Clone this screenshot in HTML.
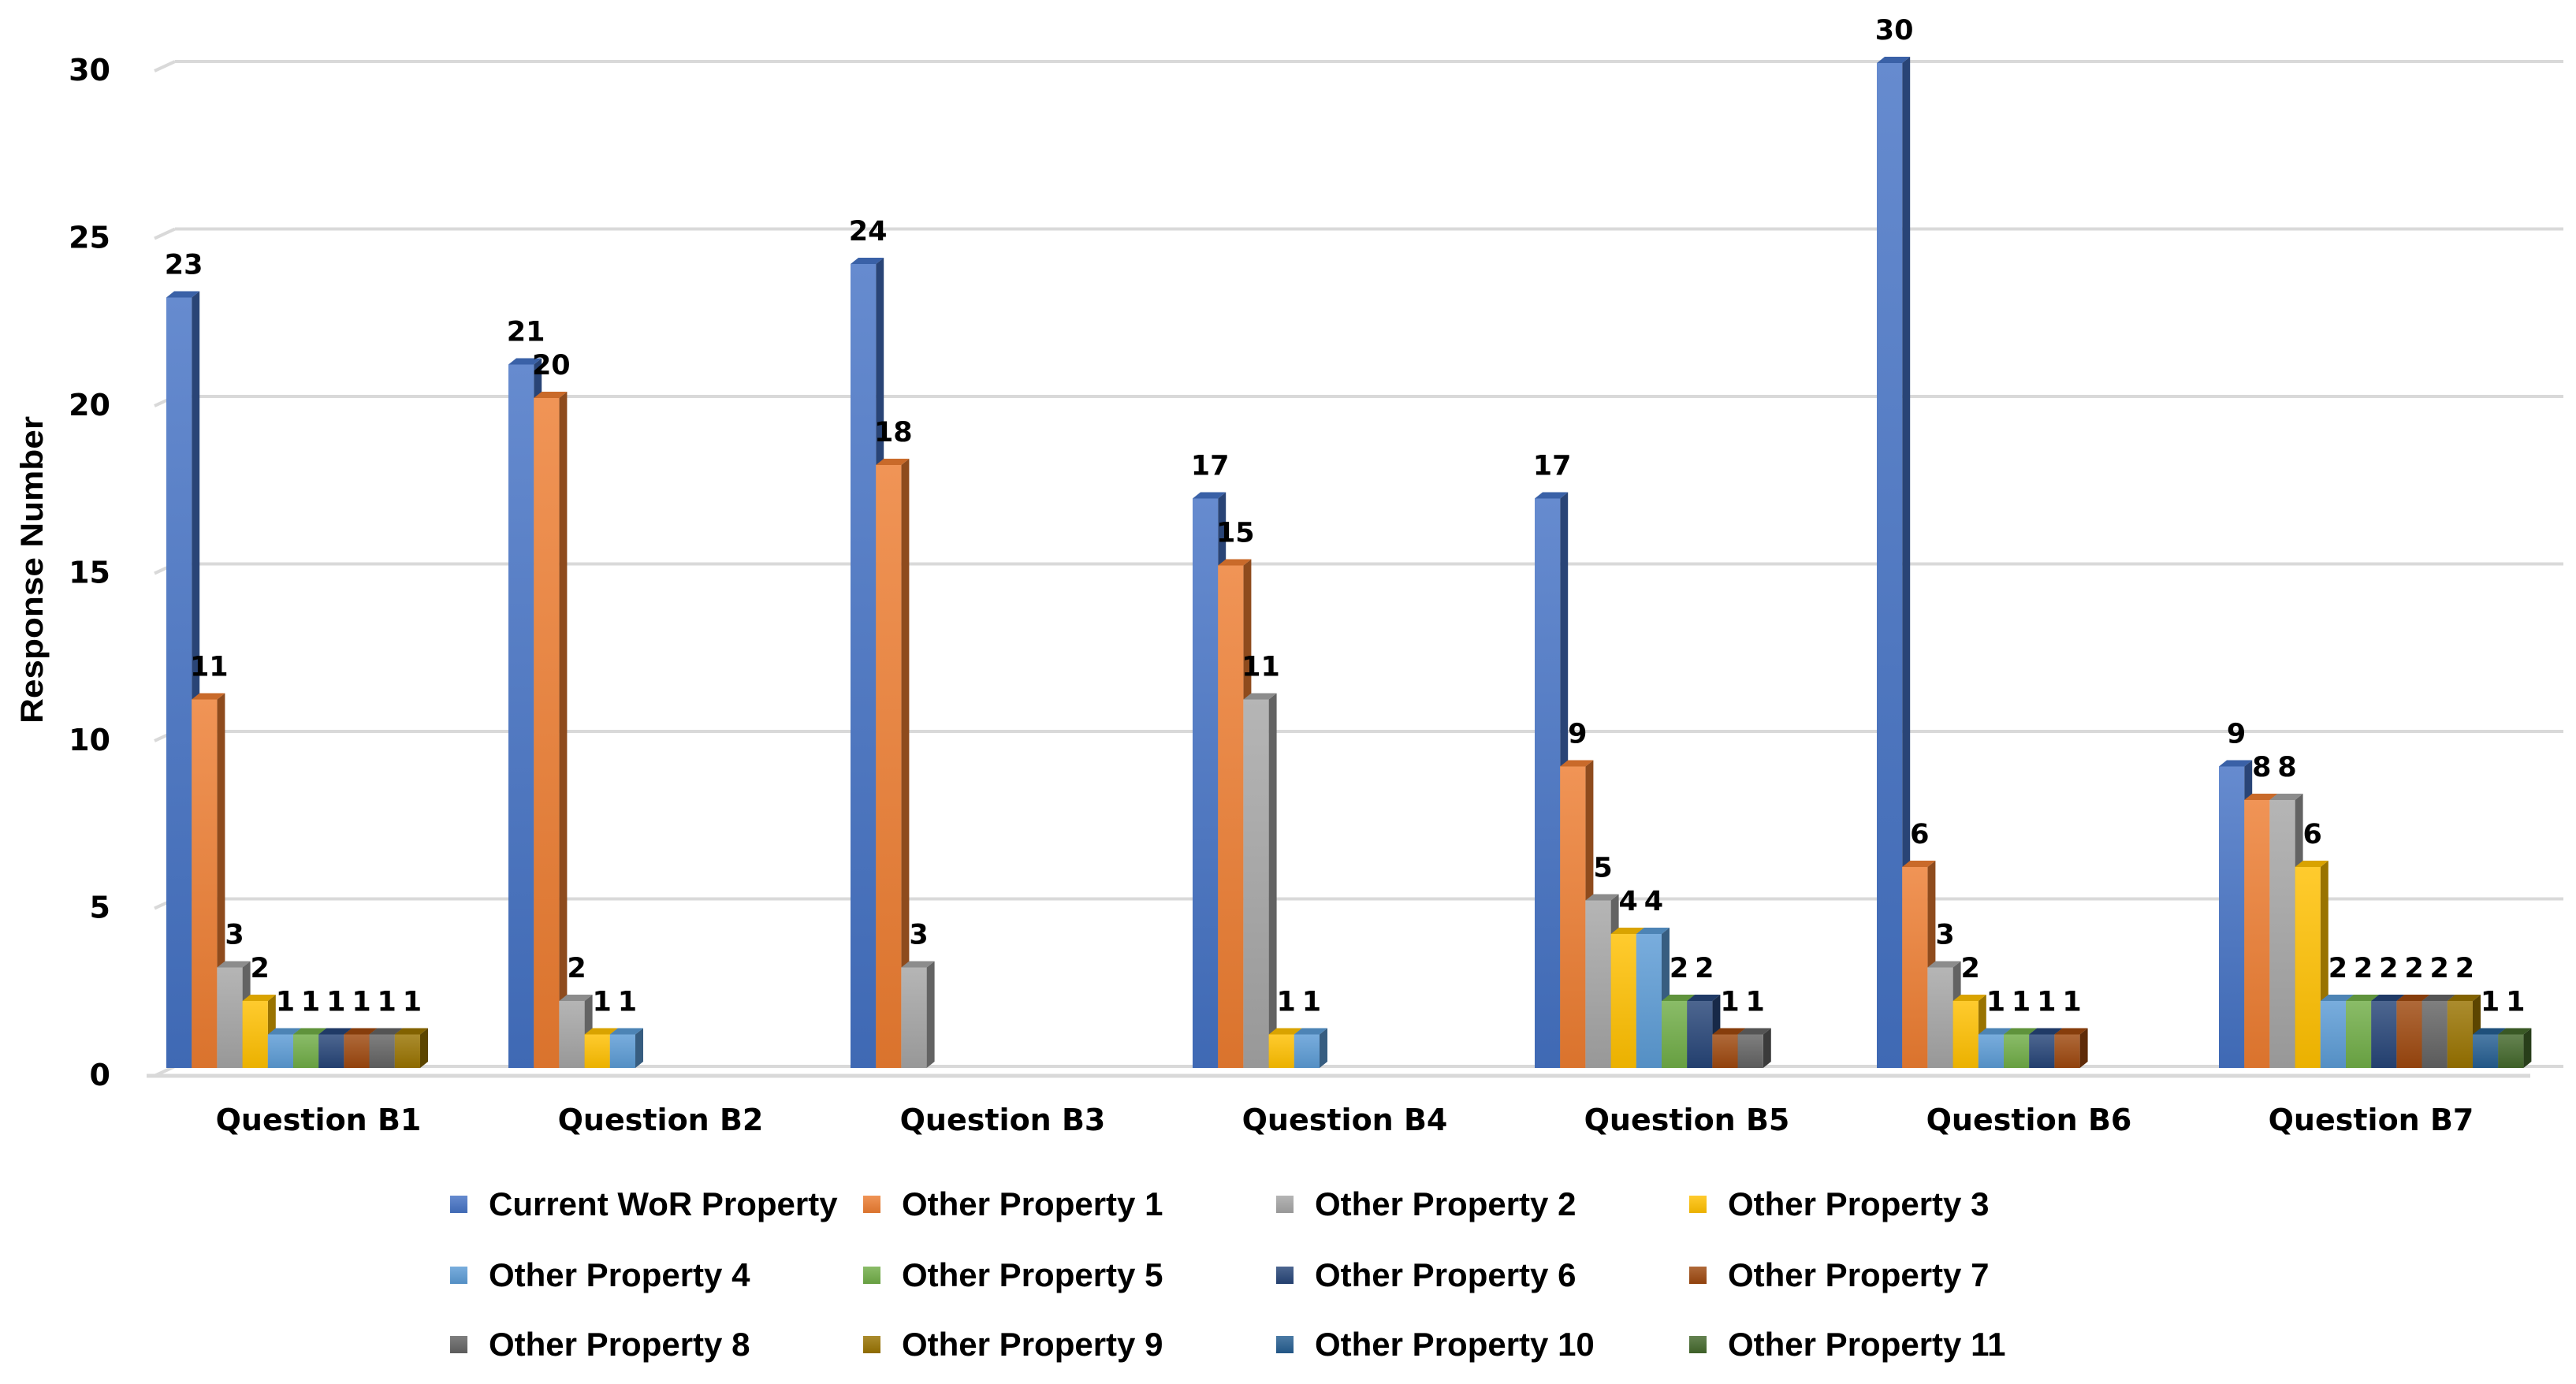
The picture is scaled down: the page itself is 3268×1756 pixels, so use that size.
<!DOCTYPE html>
<html><head><meta charset="utf-8"><style>
html,body{margin:0;padding:0;background:#fff;}
svg{display:block;}
</style></head><body>
<svg id="chart" width="3268" height="1756" viewBox="0 0 3268 1756" xmlns="http://www.w3.org/2000/svg">
<defs id="defs"></defs>
<g id="grid"></g>
<g id="yaxis"></g>
<text transform="translate(54,723) rotate(-90)" text-anchor="middle" font-family="Liberation Sans, sans-serif" font-weight="bold" font-size="40" textLength="390" lengthAdjust="spacingAndGlyphs">Response Number</text>
<g id="bars"></g>
<g id="xaxis"></g>
<g id="legend"></g>
</svg>
<script>
const categories = ["Question B1","Question B2","Question B3","Question B4","Question B5","Question B6","Question B7"];
const seriesNames = ["Current WoR Property","Other Property 1","Other Property 2","Other Property 3","Other Property 4","Other Property 5","Other Property 6","Other Property 7","Other Property 8","Other Property 9","Other Property 10","Other Property 11"];
const currentWoR = [23,21,24,17,17,30,9];
const other1 = [11,20,18,15,9,6,8];
const other2 = [3,2,3,11,5,3,8];
const other3 = [2,1,0,1,4,2,6];
const other4 = [1,1,0,1,4,1,2];
const other5 = [1,0,0,0,2,1,2];
const other6 = [1,0,0,0,2,1,2];
const other7 = [1,0,0,0,1,1,2];
const other8 = [1,0,0,0,1,0,2];
const other9 = [1,0,0,0,0,0,2];
const other10 = [0,0,0,0,0,0,1];
const other11 = [0,0,0,0,0,0,1];
const yTicks = [0,5,10,15,20,25,30];
const series = [currentWoR,other1,other2,other3,other4,other5,other6,other7,other8,other9,other10,other11];
const colors = ["#4472C4","#ED7D31","#A5A5A5","#FFC000","#5B9BD5","#70AD47","#264478","#9E480E","#636363","#997300","#255E91","#43682B"];

const NS="http://www.w3.org/2000/svg";
const plotBottom=1355, plotTop=80, yMax=30;
const y=v=>plotBottom-(plotBottom-plotTop)*v/yMax;
const groupW=434, firstCenter=404, slotW=32.2;
const xCenter=i=>firstCenter+i*groupW;
const dx=10, dy=8;
function mk(tag,attrs,parent){const e=document.createElementNS(NS,tag);for(const k in attrs)e.setAttribute(k,attrs[k]);parent.appendChild(e);return e;}
function shade(hex,f){const n=parseInt(hex.slice(1),16);let r=n>>16,g=(n>>8)&255,b=n&255;
 if(f>0){r+=(255-r)*f;g+=(255-g)*f;b+=(255-b)*f;}else{r*=1+f;g*=1+f;b*=1+f;}
 return "rgb("+Math.round(r)+","+Math.round(g)+","+Math.round(b)+")";}
const defs=document.getElementById('defs');
colors.forEach((c,i)=>{const lg=mk('linearGradient',{id:'g'+i,x1:0,y1:0,x2:0,y2:1},defs);
 mk('stop',{offset:'0','stop-color':shade(c,0.18)},lg);mk('stop',{offset:'1','stop-color':shade(c,-0.08)},lg);});

const grid=document.getElementById('grid');
yTicks.forEach(t=>{const yy=y(t);
 const l=mk('line',{x1:222,y1:yy-2,x2:3252,y2:yy-2,stroke:'#d9d9d9','stroke-width':4},grid);
 
 
 const d=mk('line',{x1:196,y1:yy+10,x2:222,y2:yy-2,stroke:'#d9d9d9','stroke-width':4},grid);
 
 
});
mk('line',{x1:186,y1:plotBottom+10,x2:3210,y2:plotBottom+10,stroke:'#d9d9d9','stroke-width':5},grid);
const ya=document.getElementById('yaxis');
yTicks.forEach(t=>{const tx=mk('text',{x:140,y:y(t)+22,'text-anchor':'end','font-family':'DejaVu Sans, sans-serif','font-weight':'bold','font-size':38},ya);
 tx.textContent=t;
 
 
});
const bars=document.getElementById('bars');
categories.forEach((cat,ci)=>{
 const start=xCenter(ci)-193;
 series.forEach((s,si)=>{const v=s[ci]; if(!v) return;
  const x0=start+si*slotW, x1=x0+slotW, yt=y(v), yb=plotBottom;
  const g=mk('g',{},bars);
  
  
  mk('polygon',{points:`${x1},${yt} ${x1+dx},${yt-dy} ${x1+dx},${yb-dy} ${x1},${yb}`,fill:shade(colors[si],-0.4)},g);
  mk('polygon',{points:`${x0},${yt} ${x0+dx},${yt-dy} ${x1+dx},${yt-dy} ${x1},${yt}`,fill:shade(colors[si],-0.15)},g);
  mk('rect',{x:x0,y:yt,width:slotW,height:yb-yt,fill:'url(#g'+si+')'},g);
  const lb=mk('text',{x:x0+slotW/2+6,y:yt-30,'text-anchor':'middle','font-family':'DejaVu Sans, sans-serif','font-weight':'bold','font-size':35},bars);
  lb.textContent=v;
  
  
 });
});
const xa=document.getElementById('xaxis');
categories.forEach((c,ci)=>{const t=mk('text',{x:xCenter(ci),y:1434,'text-anchor':'middle','font-family':'DejaVu Sans, sans-serif','font-weight':'bold','font-size':38},xa);
 t.textContent=c;
 
 
});
const lg=document.getElementById('legend');
const colX=[582,1106,1630,2154], rowY=[1528,1618,1706];
seriesNames.forEach((n,i)=>{const cx=colX[i%4], cy=rowY[Math.floor(i/4)];
 const g=mk('g',{},lg);
 
 
 mk('rect',{x:cx-11,y:cy-11,width:22,height:22,fill:'url(#g'+i+')'},g);
 const t=mk('text',{x:cx+38,y:cy+14,'font-family':'Liberation Sans, sans-serif','font-weight':'bold','font-size':42},g);
 t.textContent=n;
});
</script>
</body></html>
